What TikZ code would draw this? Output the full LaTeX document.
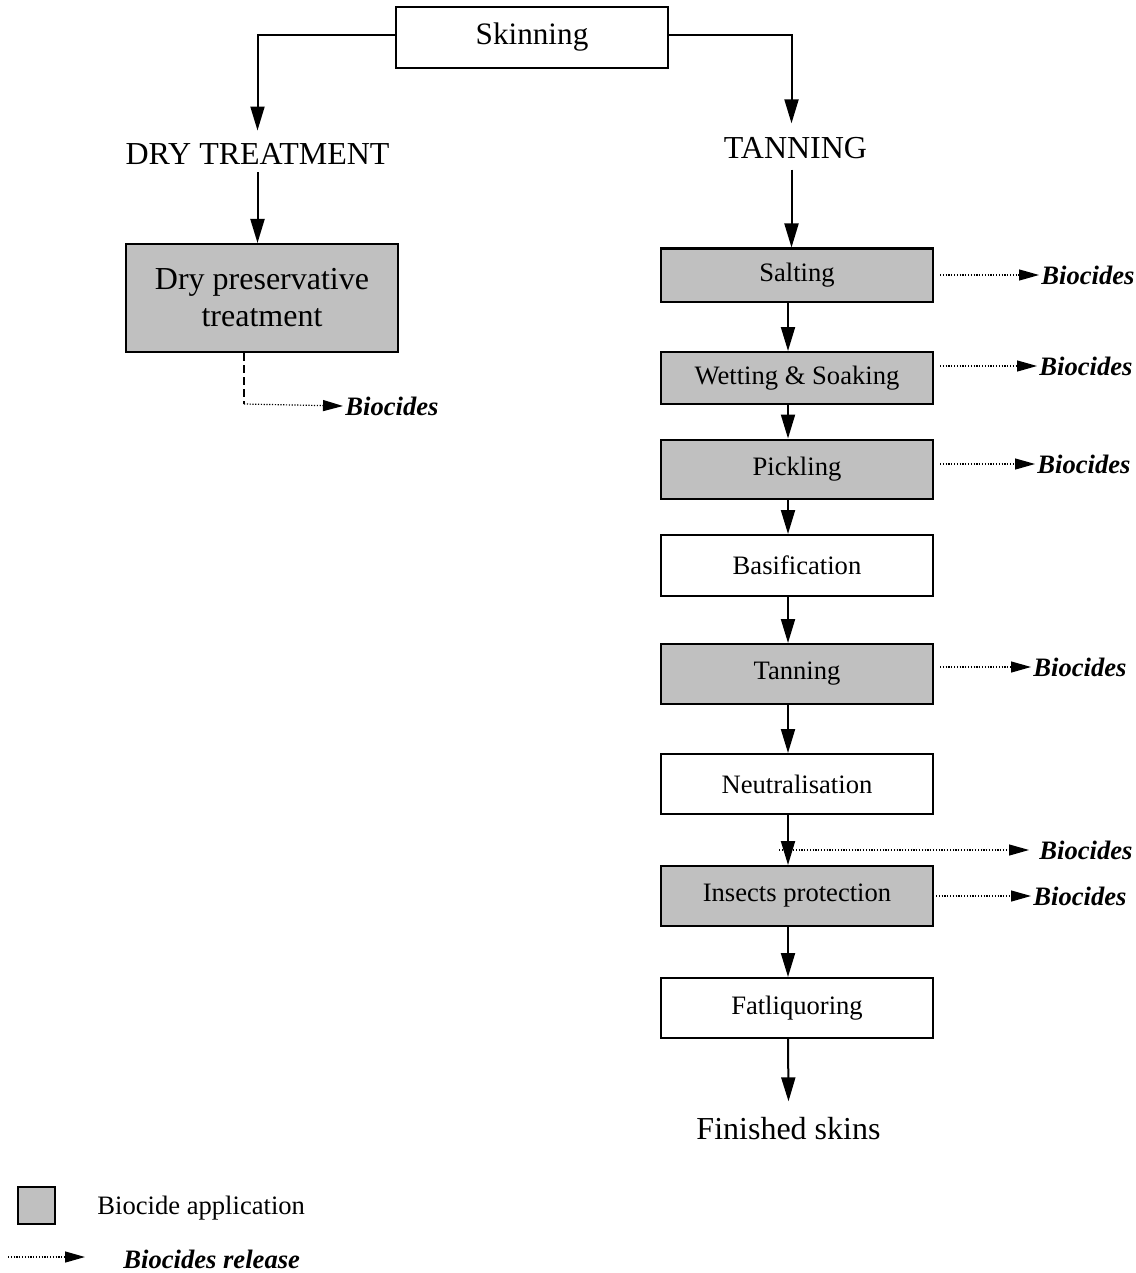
\documentclass[tikz,border=0pt]{standalone}
\usepackage{fontspec}
\setmainfont{Liberation Serif}
\usepackage{tikz}
\usetikzlibrary{arrows.meta,positioning,calc}
\definecolor{applygray}{RGB}{192,192,192}

\begin{document}
\begin{tikzpicture}[
x=0.5pt, y=-0.5pt,
stage/.style={
  draw,
  line width=1pt,
  fill=white,
  minimum width=136pt,
  minimum height=30pt,
  inner sep=0pt,
  font=\fontsize{13.3}{16}\selectfont
  },
treated/.style={
  stage,
  fill=applygray
  },
heading/.style={
  inner sep=4pt,
  font=\fontsize{16}{19}\selectfont
  },
release/.style={
  inner sep=1pt,
  anchor=west,
  font=\fontsize{13.3}{16}\selectfont\bfseries\itshape
  },
flow/.style={
  ->,
  line width=1pt
  },
leak/.style={
  ->,
  line width=0.6pt,
  dash pattern=on 0.6pt off 0.8pt,
  >={Triangle[length=10pt,width=5.5pt]}
  },
>={Triangle[length=12pt,width=7pt]}
]
\useasboundingbox (0,0) rectangle (1135,1273);

% top of the tree
\node[stage, minimum height=30.5pt, font=\fontsize{15.6}{18}\selectfont] (skin) at (532,37.5) {Skinning};
\node[heading] (dryhead) at (257.5,153.5) {DRY TREATMENT};
\node[heading] (tanhead) at (795.5,148.5) {TANNING};

\draw[flow] ([yshift=1pt]skin.west) -| ([yshift=2pt]dryhead.north);
\draw[flow] ([yshift=1pt]skin.east) -| ([xshift=-2pt,yshift=3pt]tanhead.north);

% dry branch
\node[treated, minimum height=54pt, align=center,
      font=\fontsize{16}{18.5}\selectfont] (dry) at (262,298) {Dry preservative\\treatment};
\draw[flow] (dryhead.south) -- (dryhead.south |- dry.north);

\coordinate (drybend) at (244,404);
\node[release] (bioDry) at (343,406) {Biocides};
\draw[line width=0.8pt, dash pattern=on 4pt off 2pt] (dry.south -| drybend) -- (drybend);
\draw[leak] (drybend) -- (bioDry.west);

% tanning branch
\node[treated, minimum height=26.5pt] (salt)   at (797,275)  {Salting};
\node[treated, minimum height=26pt]   (wet)    at (797,378)  {Wetting \& Soaking};
\node[treated, minimum height=29.5pt] (pickle) at (797,469)  {Pickling};
\node[stage,   minimum height=30.5pt] (basif)  at (797,565.5){Basification};
\node[treated]                        (tan)    at (797,674)  {Tanning};
\node[stage]                          (neutr)  at (797,784)  {Neutralisation};
\node[treated]                        (insect) at (797,896)  {Insects protection};
\node[stage]                          (fat)    at (797,1008) {Fatliquoring};
\node[heading] (finish) at (788.5,1129) {Finished skins};

\draw[flow] ([xshift=-2pt,yshift=-1pt]tanhead.south) -- ([xshift=-2pt]tanhead.south |- salt.north);

\foreach \from/\to in {salt/wet,wet/pickle,pickle/basif,basif/tan,tan/neutr,neutr/insect,insect/fat}
  \draw[flow] ([xshift=-4.5pt]\from.south) -- ([xshift=-4.5pt]\to.north);
\draw[flow] ([xshift=-4.5pt]fat.south) -- ([yshift=4pt]finish.north);

% biocides released
\node[release] (bioA) at (1039,275) {Biocides};
\node[release] (bioB) at (1037,366) {Biocides};
\node[release] (bioC) at (1035,464) {Biocides};
\node[release] (bioD) at (1031,667) {Biocides};
\node[release] (bioE) at (1037,850) {Biocides};
\node[release] (bioF) at (1031,896) {Biocides};

\draw[leak, shorten <=3pt] (salt.east |- bioA.west) -- (bioA.west);
\draw[leak, shorten <=3pt] (wet.east |- bioB.west) -- (bioB.west);
\draw[leak, shorten <=3pt] (pickle.east |- bioC.west) -- (bioC.west);
\draw[leak, shorten <=3pt] (tan.east |- bioD.west) -- (bioD.west);
\coordinate (neutrtap) at (779,850);
\draw[leak, shorten >=4pt] (neutrtap) -- (bioE.west);
\draw[leak, shorten <=1pt] (insect.east |- bioF.west) -- (bioF.west);

% legend
\node[treated, minimum width=18.5pt, minimum height=18.5pt] (legbox) at (36.5,1205.5) {};
\node[anchor=west, inner sep=0pt, font=\fontsize{13.3}{16}\selectfont] (legapply) at (97,1208) {Biocide application};
\node[release, inner sep=0pt] (legrel) at (123,1259) {Biocides release};
\coordinate (legstart) at (8,1257);
\draw[leak, shorten >=19pt] (legstart) -- (legstart -| legrel.west);

\end{tikzpicture}
\end{document}
